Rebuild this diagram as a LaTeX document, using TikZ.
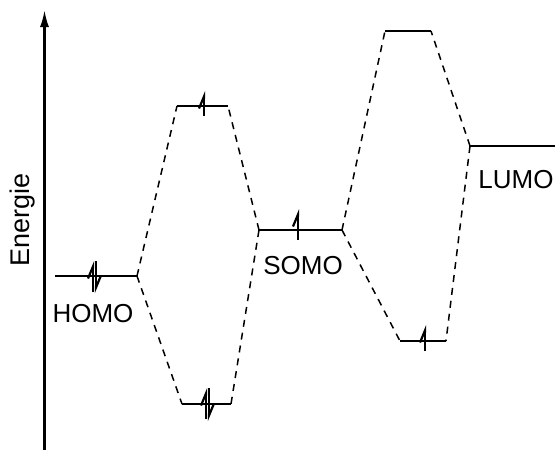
\documentclass[tikz,border=0pt]{standalone}
\usepackage{fontspec}
\setmainfont{Liberation Sans}
\usetikzlibrary{arrows.meta}
\begin{document}
\begin{tikzpicture}[x=1pt,y=-1pt,
  level/.style={line width=2.4pt},
  link/.style={line width=1.5pt,dash pattern=on 7pt off 6pt},
  spin/.style={line width=2.2pt,-{Straight Barb[left,length=12pt,width=10pt]}},
  lbl/.style={font=\fontsize{26}{30}\selectfont,inner sep=0pt}]
\useasboundingbox (0,0) rectangle (555,450);

% energy axis
\coordinate (ax0) at (44.5,450);
\coordinate (ax1) at (44.5,10);
\draw[line width=2.2pt,-{Latex[length=17pt,width=9pt]}] (ax0) -- (ax1);
\node[lbl,rotate=90,font=\fontsize{27}{30}\selectfont] (en) at (23,220) {Energie};

% orbital levels
\coordinate (homoL) at (55,276);   \coordinate (homoR) at (137,276);
\coordinate (b1L) at (177,106);    \coordinate (b1R) at (228,106);
\coordinate (b2L) at (182,404);    \coordinate (b2R) at (231,404);
\coordinate (somoL) at (259,230);  \coordinate (somoR) at (342,230);
\coordinate (c1L) at (385,31);     \coordinate (c1R) at (431,31);
\coordinate (c2L) at (400,341);    \coordinate (c2R) at (446,341);
\coordinate (lumoL) at (470,146);  \coordinate (lumoR) at (555,146);

\foreach \o in {homo,b1,b2,somo,c1,c2,lumo}
  \draw[level] (\o L) -- (\o R);

% correlation lines
\draw[link] (homoR) -- (b1L);
\draw[link] (homoR) -- (b2L);
\draw[link] (somoL) -- (b1R);
\draw[link] (somoL) -- (b2R);
\draw[link] (somoR) -- (c1L);
\draw[link] (somoR) -- (c2L);
\draw[link] (lumoL) -- (c1R);
\draw[link] (lumoL) -- (c2R);

% electrons
\draw[spin] (93,292) -- (93,261);
\draw[spin] (96,261) -- (96,293);
\draw[spin] (204,116) -- (204,91);
\draw[spin] (206,419) -- (206,388);
\draw[spin] (209,388) -- (209,421);
\draw[spin] (298,240) -- (298,209);
\draw[spin] (425,351) -- (425,325);

% labels
\node[lbl] (homo) at (93,314) {HOMO};
\node[lbl] (somo) at (303,266) {SOMO};
\node[lbl] (lumo) at (516,180) {LUMO};
\end{tikzpicture}
\end{document}
